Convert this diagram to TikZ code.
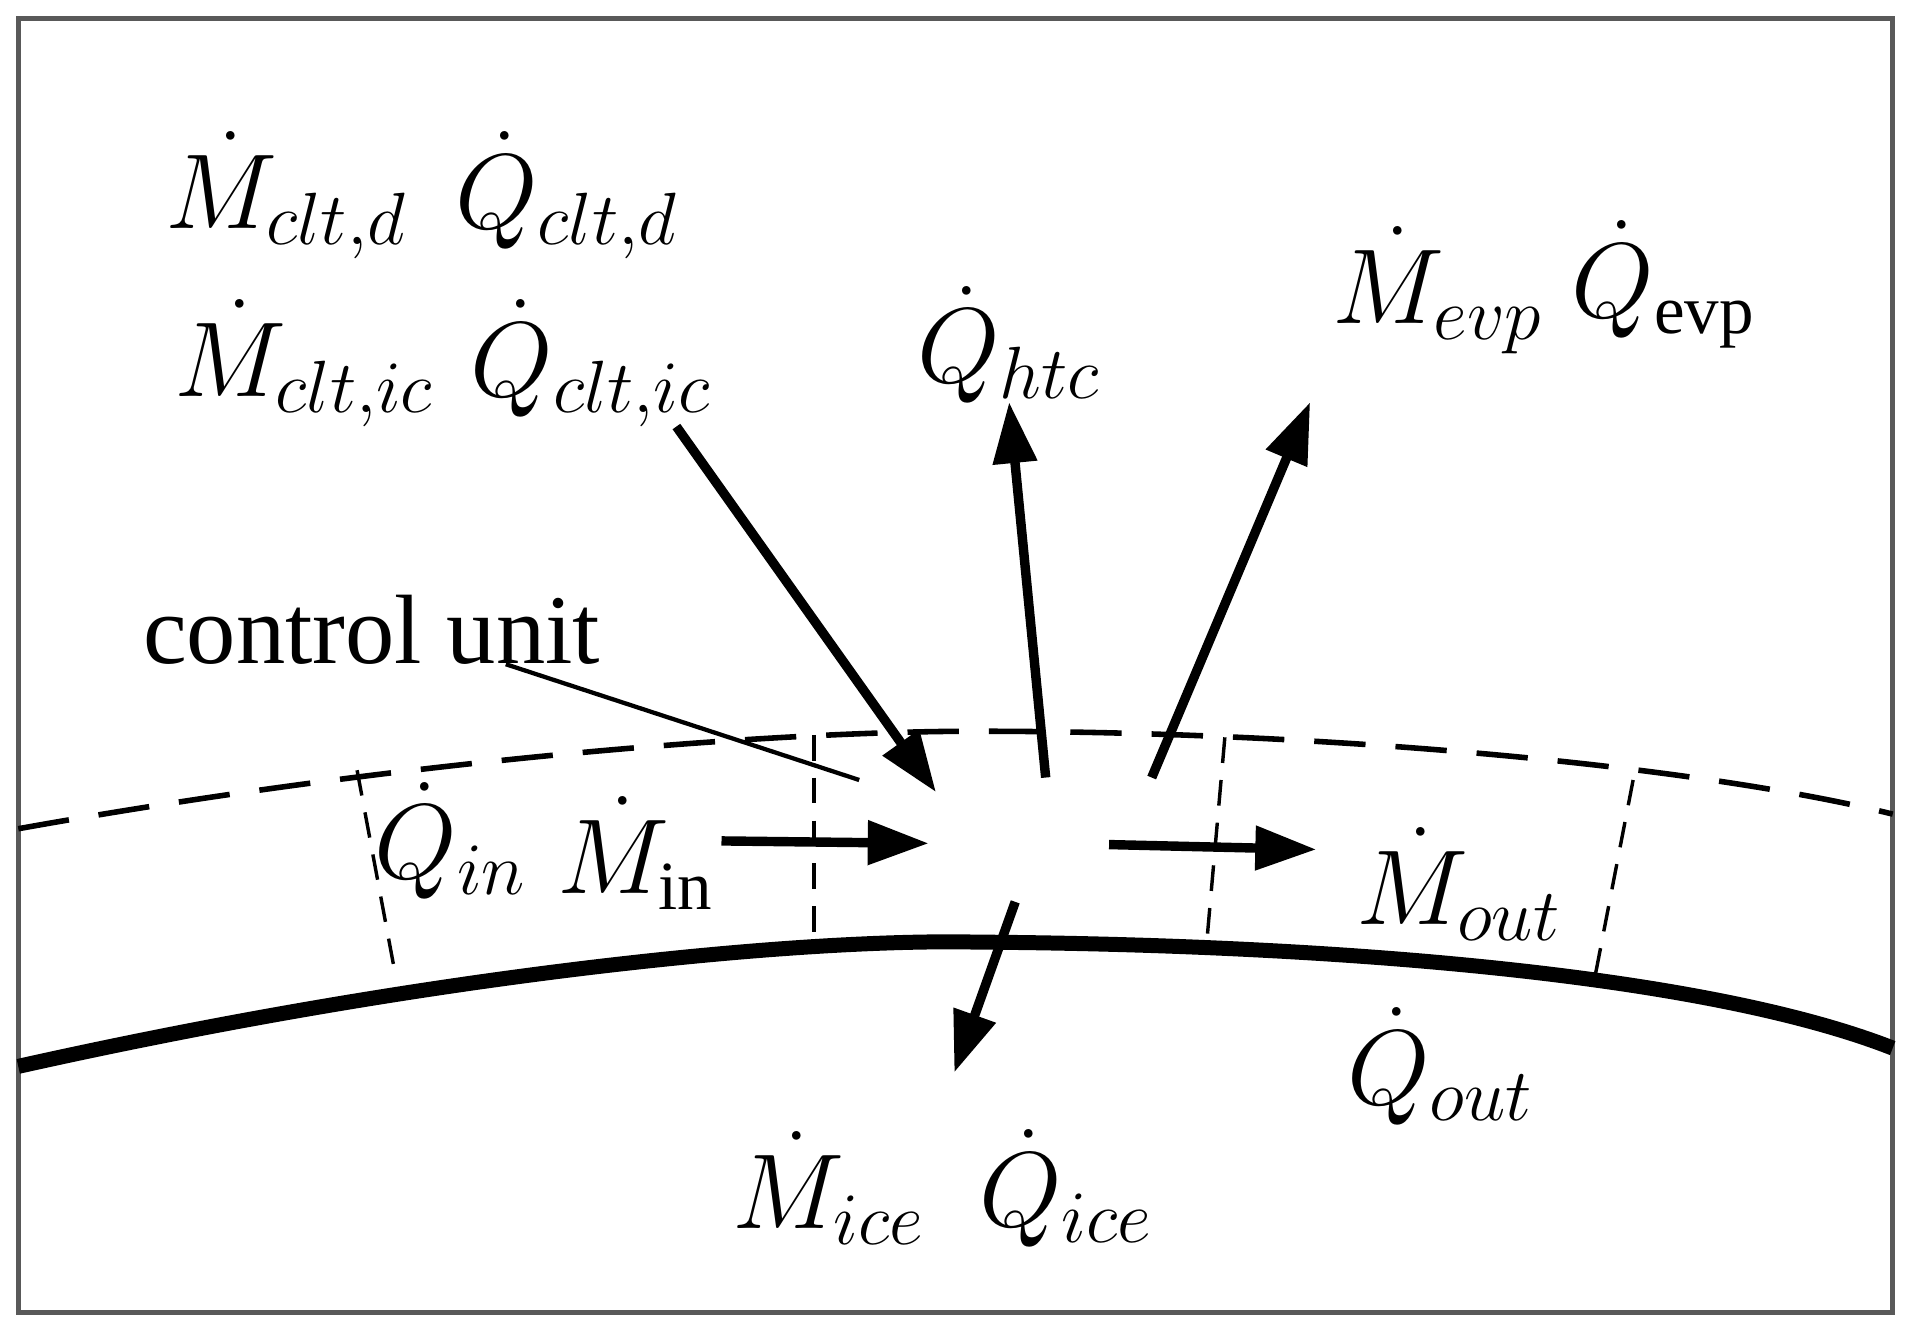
\documentclass[tikz,border=0pt]{standalone}
\usepackage{fontspec}
\setmainfont{Liberation Serif}
\usetikzlibrary{arrows.meta}
\begin{document}
\begin{tikzpicture}[x=0.1mm,y=-0.1mm,
  flow/.style={line width=2.2pt,-{Triangle[length=5mm,width=3.5mm]}},
  lbl/.style={font=\fontsize{23}{27}\selectfont},
  divider/.style={dashed,line width=0.8pt,dash pattern=on 6pt off 4pt}]
\useasboundingbox (0,0) rectangle (1568,1094);
\draw[gray!70!black,line width=1.2pt] (15,15) rectangle (1553,1077);
\draw[line width=3.5pt] (15,875) .. controls (350,800) and (650,770) .. (800,773) .. controls (1100,775) and (1400,800) .. (1553,860);
\draw[dashed,line width=1.3pt,dash pattern=on 12pt off 7pt] (15,680) .. controls (350,620) and (650,600) .. (800,600) .. controls (1100,600) and (1400,630) .. (1553,668);
\draw[divider] (293,632) -- (325,803);
\draw[divider] (668,603) -- (668,775);
\draw[divider] (1005,605) -- (990,775);
\draw[divider] (1340,640) -- (1308,805);
\node[lbl] (mcd) at (235,160) {$\dot M_{clt,d}$};
\node[lbl] (qcd) at (465,160) {$\dot Q_{clt,d}$};
\node[lbl] (mci) at (250,298) {$\dot M_{clt,ic}$};
\node[lbl] (qci) at (485,298) {$\dot Q_{clt,ic}$};
\node[lbl] (qhtc) at (828,283) {$\dot Q_{htc}$};
\node[lbl] (mevp) at (1180,238) {$\dot M_{evp}$};
\node[lbl] (qevp) at (1365,233) {$\dot Q_{\mathrm{evp}}$};
\node[lbl] (qin) at (370,690) {$\dot Q_{in}$};
\node[lbl] (min) at (522,700) {$\dot M_{\mathrm{in}}$};
\node[lbl] (mout) at (1197,725) {$\dot M_{out}$};
\node[lbl] (qout) at (1182,875) {$\dot Q_{out}$};
\node[lbl] (mice) at (680,975) {$\dot M_{ice}$};
\node[lbl] (qice) at (875,975) {$\dot Q_{ice}$};
\node[lbl] (cu) at (305,517) {control unit};
\coordinate (a1) at (555,350); \coordinate (b1) at (768,650);
\coordinate (a2) at (858,638); \coordinate (b2) at (828,330);
\coordinate (a3) at (945,638); \coordinate (b3) at (1075,330);
\coordinate (a4) at (592,690); \coordinate (b4) at (762,692);
\coordinate (a5) at (910,693); \coordinate (b5) at (1080,697);
\coordinate (a6) at (833,740); \coordinate (b6) at (783,880);
\coordinate (cl1) at (415,545); \coordinate (cl2) at (705,640);
\foreach \i in {1,...,6} \draw[flow] (a\i) -- (b\i);
\draw[line width=1pt] (cl1) -- (cl2);
\end{tikzpicture}
\end{document}
